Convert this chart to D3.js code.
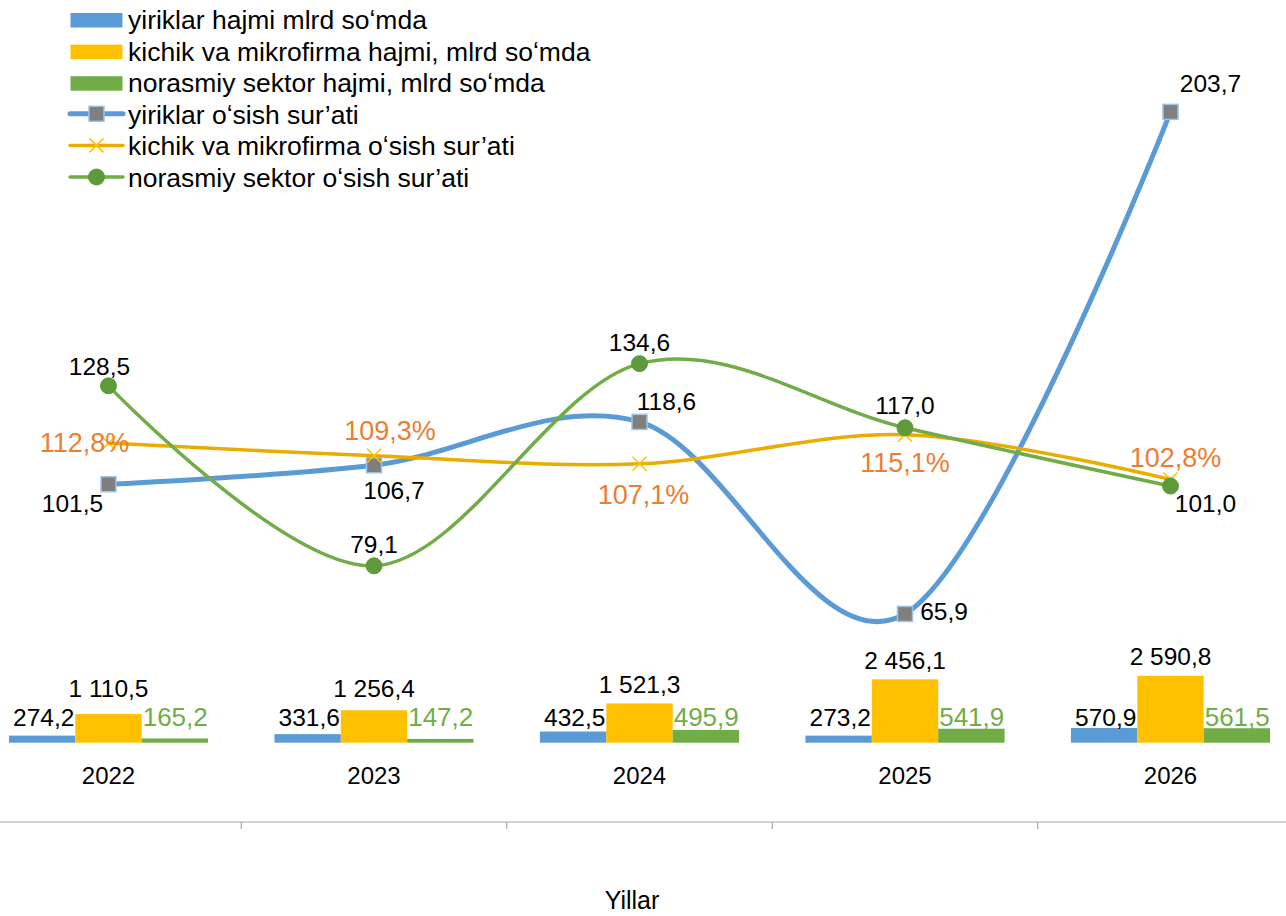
<!DOCTYPE html>
<html><head><meta charset="utf-8">
<script src="https://cdn.jsdelivr.net/npm/d3@7"></script>
<style>body{margin:0;background:#fff}svg{display:block;font-family:"Liberation Sans",Arial,sans-serif}</style>
</head><body><svg id="c" width="1286" height="916"></svg>
<script>
const years = ["2022","2023","2024","2025","2026"];
const barLarge = [274.2,331.6,432.5,273.2,570.9];
const barSmall = [1110.5,1256.4,1521.3,2456.1,2590.8];
const barInformal = [165.2,147.2,495.9,541.9,561.5];
const growthLarge = [101.5,106.7,118.6,65.9,203.7];
const growthSmall = [112.8,109.3,107.1,115.1,102.8];
const growthInformal = [128.5,79.1,134.6,117.0,101.0];
const legendLabels = [
  "yiriklar hajmi mlrd so\u02BBmda",
  "kichik va mikrofirma hajmi, mlrd so\u02BBmda",
  "norasmiy sektor hajmi, mlrd so\u02BBmda",
  "yiriklar o\u02BBsish sur\u2019ati",
  "kichik va mikrofirma o\u02BBsish sur\u2019ati",
  "norasmiy sektor o\u02BBsish sur\u2019ati"
];
const axisTitle = "Yillar";

const C = {blue:"#5B9BD5", yellow:"#FFC000", yline:"#EBAC00", green:"#70AD47", gmark:"#5E9A3A", orange:"#ED7D31"};
const svg = d3.select("#c");
const loc = d3.formatLocale({decimal:",", thousands:" ", grouping:[3], currency:["",""]});
const fmt = loc.format(",.1f");

const x0 = d3.scaleBand().domain(years).range([-24.25, 1303.25]).paddingInner(0.25).paddingOuter(0.125);
const x1 = d3.scaleBand().domain([0,1,2]).range([0, x0.bandwidth()]);
const yBar = d3.scaleLinear().domain([0, 3000]).range([742.7, 742.7 - 3000*0.0258]);
const yLine = d3.scaleLinear().domain([0, 220]).range([854, 52.5]);
const cx = d => x0(d) + x0.bandwidth()/2;

// axis
svg.append("line").attr("x1",0).attr("x2",1286).attr("y1",822).attr("y2",822).attr("stroke","#A6A6A6").attr("stroke-width",1.2);
years.slice(1).forEach(y => {
  const bx = x0(y) - x0.step()*x0.paddingInner()/2;
  svg.append("line").attr("x1",bx).attr("x2",bx).attr("y1",822).attr("y2",829).attr("stroke","#A6A6A6").attr("stroke-width",1.2);
});
svg.selectAll(".yr").data(years).enter().append("text")
  .attr("x", d=>cx(d)).attr("y",775).attr("text-anchor","middle").attr("dominant-baseline","central")
  .attr("font-size",24).attr("fill","#000").text(d=>d);
svg.append("text").attr("x",632).attr("y",900).attr("text-anchor","middle").attr("dominant-baseline","central")
  .attr("font-size",25).attr("fill","#000").text(axisTitle);

// bars
const barSeries = [{v:barLarge,c:C.blue},{v:barSmall,c:C.yellow},{v:barInformal,c:C.green}];
barSeries.forEach((s,i) => {
  svg.selectAll(null).data(years).enter().append("rect")
    .attr("x", d=>x0(d)+x1(i)).attr("width", x1.bandwidth())
    .attr("y", (d,j)=>yBar(s.v[j])).attr("height",(d,j)=>yBar(0)-yBar(s.v[j]))
    .attr("fill", s.c);
});
// bar labels
svg.selectAll(null).data(years).enter().append("text")
  .attr("x", d=>x0(d)+x1(0)+x1.bandwidth()-1).attr("y",717).attr("text-anchor","end").attr("dominant-baseline","central")
  .attr("font-size",24.5).attr("fill","#000").text((d,j)=>fmt(barLarge[j]));
svg.selectAll(null).data(years).enter().append("text")
  .attr("x", d=>x0(d)+x1(1)+x1.bandwidth()/2).attr("y",(d,j)=>Math.min(yBar(barSmall[j])-19, 688))
  .attr("text-anchor","middle").attr("dominant-baseline","central")
  .attr("font-size",24.5).attr("fill","#000").text((d,j)=>fmt(barSmall[j]));
svg.selectAll(null).data(years).enter().append("text")
  .attr("x", d=>x0(d)+x1(2)+1).attr("y",717).attr("text-anchor","start").attr("dominant-baseline","central")
  .attr("font-size",26).attr("fill",C.green).text((d,j)=>fmt(barInformal[j]));

// lines
const lineGen = d3.line().x((d,i)=>cx(years[i])).y(d=>yLine(d)).curve(d3.curveCardinal.tension(0));
function drawLine(vals, color, width){
  svg.append("path").attr("d", lineGen(vals)).attr("fill","none").attr("stroke",color).attr("stroke-width",width).attr("stroke-linecap","round");
}
function square(g,x,y){ g.append("rect").attr("x",x-7.5).attr("y",y-7.5).attr("width",15).attr("height",15).attr("fill","#7F7F7F").attr("stroke","#9DC3E6").attr("stroke-width",1.5); }
function cross(g,x,y){ g.append("path").attr("d",`M${x-7},${y-7}L${x+7},${y+7}M${x-7},${y+7}L${x+7},${y-7}`).attr("stroke",C.yellow).attr("stroke-width",1.5).attr("fill","none"); }
function dot(g,x,y){ g.append("circle").attr("cx",x).attr("cy",y).attr("r",8).attr("fill",C.gmark).attr("stroke",C.gmark); }

drawLine(growthLarge, C.blue, 5);
growthLarge.forEach((v,i)=>square(svg,cx(years[i]),yLine(v)));
drawLine(growthSmall, C.yline, 3.5);
growthSmall.forEach((v,i)=>cross(svg,cx(years[i]),yLine(v)));
drawLine(growthInformal, C.green, 3.5);
growthInformal.forEach((v,i)=>dot(svg,cx(years[i]),yLine(v)));

// point labels (offsets = placement only)
const offLarge = [[-36,19],[20,25],[27,-20],[39,-2],[40,-28]];
const offSmall = [[-24,0],[16,-25],[4,31],[0,28],[5,-21]];
const offInformal = [[-9,-19],[0,-21],[0,-21],[0,-22],[35,17]];
function labels(vals, offs, color, size, suffix){
  vals.forEach((v,i)=>{
    svg.append("text").attr("x",cx(years[i])+offs[i][0]).attr("y",yLine(v)+offs[i][1])
      .attr("text-anchor","middle").attr("dominant-baseline","central")
      .attr("font-size",size).attr("fill",color).text(fmt(v)+suffix);
  });
}
labels(growthLarge, offLarge, "#000", 24.5, "");
labels(growthSmall, offSmall, C.orange, 27, "%");
labels(growthInformal, offInformal, "#000", 24.5, "");

// legend
const lg = svg.append("g");
const rowY = i => 20 + i*31.6;
[C.blue,C.yellow,C.green].forEach((c,i)=>{
  lg.append("rect").attr("x",70.5).attr("y",rowY(i)-7).attr("width",52).attr("height",14.5).attr("fill",c);
});
[[C.blue,5,square],[C.yline,3.5,cross],[C.green,3.5,dot]].forEach((s,k)=>{
  const i=k+3, y=rowY(i)-1;
  lg.append("line").attr("x1",70).attr("x2",123).attr("y1",y).attr("y2",y).attr("stroke",s[0]).attr("stroke-width",s[1]).attr("stroke-linecap","round");
  s[2](lg,96.5,y);
});
legendLabels.forEach((t,i)=>{
  lg.append("text").attr("x",128).attr("y",rowY(i)).attr("dominant-baseline","central")
    .attr("font-size",26.5).attr("fill","#000").text(t);
});
</script></body></html>
